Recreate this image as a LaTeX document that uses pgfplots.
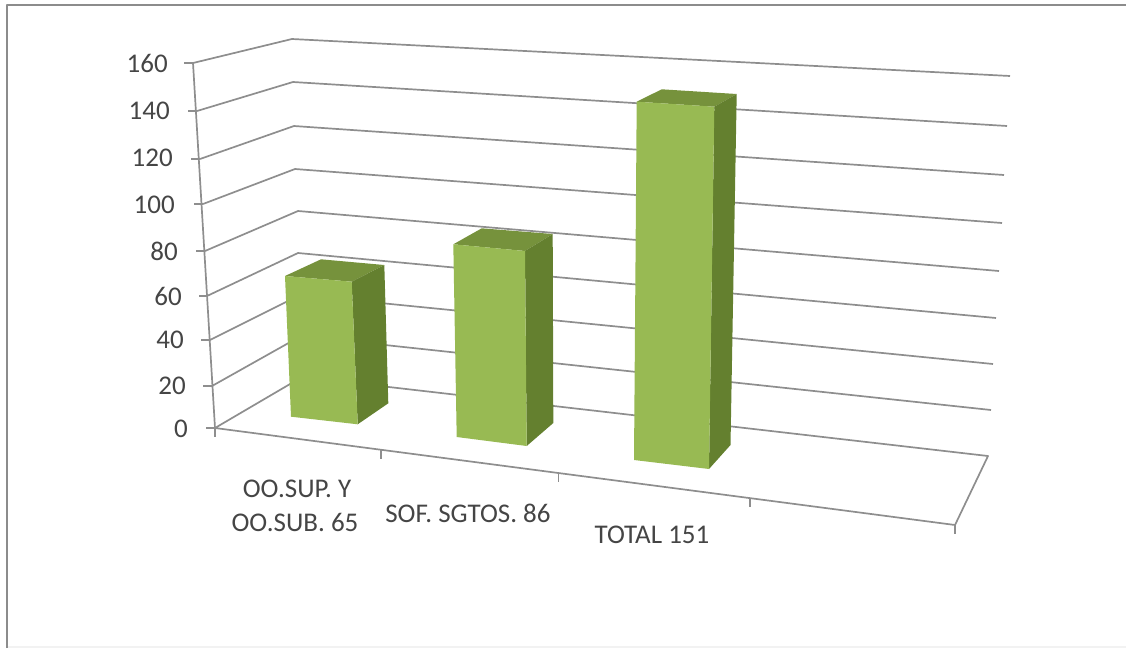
\documentclass[border=0pt]{standalone}
\usepackage{fontspec}
\setmainfont{Carlito}
\usepackage{pgfplots}
\usepackage{pgfplotstable}
\pgfplotsset{compat=1.18}

\definecolor{barfront}{HTML}{98BA53}
\definecolor{bartop}{HTML}{76923C}
\definecolor{barside}{HTML}{64802F}
\definecolor{gridgray}{HTML}{8E8E8E}
\definecolor{framegray}{HTML}{8C8C8C}
\definecolor{labelgray}{HTML}{454545}

% positions are pixels of the picture, y counted from the top
\pgfplotstableread[col sep=comma]{
x,y,label
168,63,160
170,111,140
173,158,120
175,205,100
178,251,80
182,296,60
184,340,40
186,386,20
188,429,0
}\ticklabels
\pgfplotstableread[col sep=comma]{
x,y,label
297,489,OO.SUP. Y
295,522,OO.SUB. 65
468,513,SOF. SGTOS. 86
652,535,TOTAL 151
}\catlabels

\begin{document}
\begin{tikzpicture}
\begin{axis}[
    scale only axis,
    width=1126pt, height=648pt,
    xmin=0, xmax=1126, ymin=0, ymax=648,
    y dir=reverse,
    axis line style={draw=none},
    xtick=\empty, ytick=\empty,
    unbounded coords=jump,
    every axis plot/.append style={line join=round},
]
% frame
\addplot[framegray, line width=2.5pt] coordinates {(7,648) (7,5) (1126,5)};
\addplot[black!5, line width=1.5pt] coordinates {(8,647) (1126,647)};

% gridlines, left wall and back wall
\addplot[gridgray, line width=1.7pt] coordinates {
 (193,63) (292,39) (1010,76) (nan,nan)
 (197,111) (293,82) (1007,126) (nan,nan)
 (200,159) (294,126) (1004,175) (nan,nan)
 (203,204) (295,169) (1002,223) (nan,nan)
 (205,251) (298,211) (999,271) (nan,nan)
 (207,296) (298,253) (996,318) (nan,nan)
 (210,340) (300,295) (993,364) (nan,nan)
 (212,386) (301,336) (991,410) (nan,nan)
 (215,428) (302,377) (988,456) (955,525) (215,428) (nan,nan)
 (193,63) (215,428)
};
% tick marks
\addplot[gridgray, line width=1.7pt] coordinates {
 (184,63) (193,63) (nan,nan)
 (188,111) (197,111) (nan,nan)
 (191,159) (200,159) (nan,nan)
 (194,204) (203,204) (nan,nan)
 (196,251) (205,251) (nan,nan)
 (199,296) (207,296) (nan,nan)
 (201,340) (210,340) (nan,nan)
 (203,386) (212,386) (nan,nan)
 (206,428) (215,428) (nan,nan)
 (215,428) (215,437) (nan,nan)
 (381,450) (381,459) (nan,nan)
 (558.5,473) (558.5,482) (nan,nan)
 (750,499) (750,507) (nan,nan)
 (955,525) (955,534)
};

% bar 1
\addplot[fill=bartop, draw=none] coordinates {(285,276) (321,259.3) (384.3,265) (351.7,281.7)} -- cycle;
\addplot[fill=barside, draw=none] coordinates {(351.7,281.7) (384.3,265) (388.3,403.3) (357.7,424.3)} -- cycle;
\addplot[fill=barfront, draw=none] coordinates {(285,276) (351.7,281.7) (357.7,424.3) (291,416.7)} -- cycle;
% bar 2
\addplot[fill=bartop, draw=none] coordinates {(453.3,244.3) (481.7,228.3) (552.7,234) (525,251)} -- cycle;
\addplot[fill=barside, draw=none] coordinates {(525,251) (552.7,234) (553.3,423) (526.7,446)} -- cycle;
\addplot[fill=barfront, draw=none] coordinates {(453.3,244.3) (525,251) (526.7,446) (456.7,437)} -- cycle;
% bar 3
\addplot[fill=bartop, draw=none] coordinates {(636.7,101.7) (661.7,89.3) (736.7,94) (714.3,106.7)} -- cycle;
\addplot[fill=barside, draw=none] coordinates {(714.3,106.7) (736.7,94) (730.5,445) (709,469)} -- cycle;
\addplot[fill=barfront, draw=none] coordinates {(636.7,101.7) (714.3,106.7) (709,469) (634,460)} -- cycle;

% labels
\addplot[draw=none, point meta=explicit symbolic,
    nodes near coords,
    nodes near coords style={anchor=east, inner sep=0pt, text=labelgray, font=\fontsize{27}{27}\selectfont}]
    table[x=x, y=y, meta=label] {\ticklabels};
\addplot[draw=none, point meta=explicit symbolic,
    nodes near coords,
    nodes near coords style={anchor=center, inner sep=0pt, text=labelgray, font=\fontsize{27}{27}\selectfont}]
    table[x=x, y=y, meta=label] {\catlabels};
\end{axis}
\end{tikzpicture}
\end{document}
